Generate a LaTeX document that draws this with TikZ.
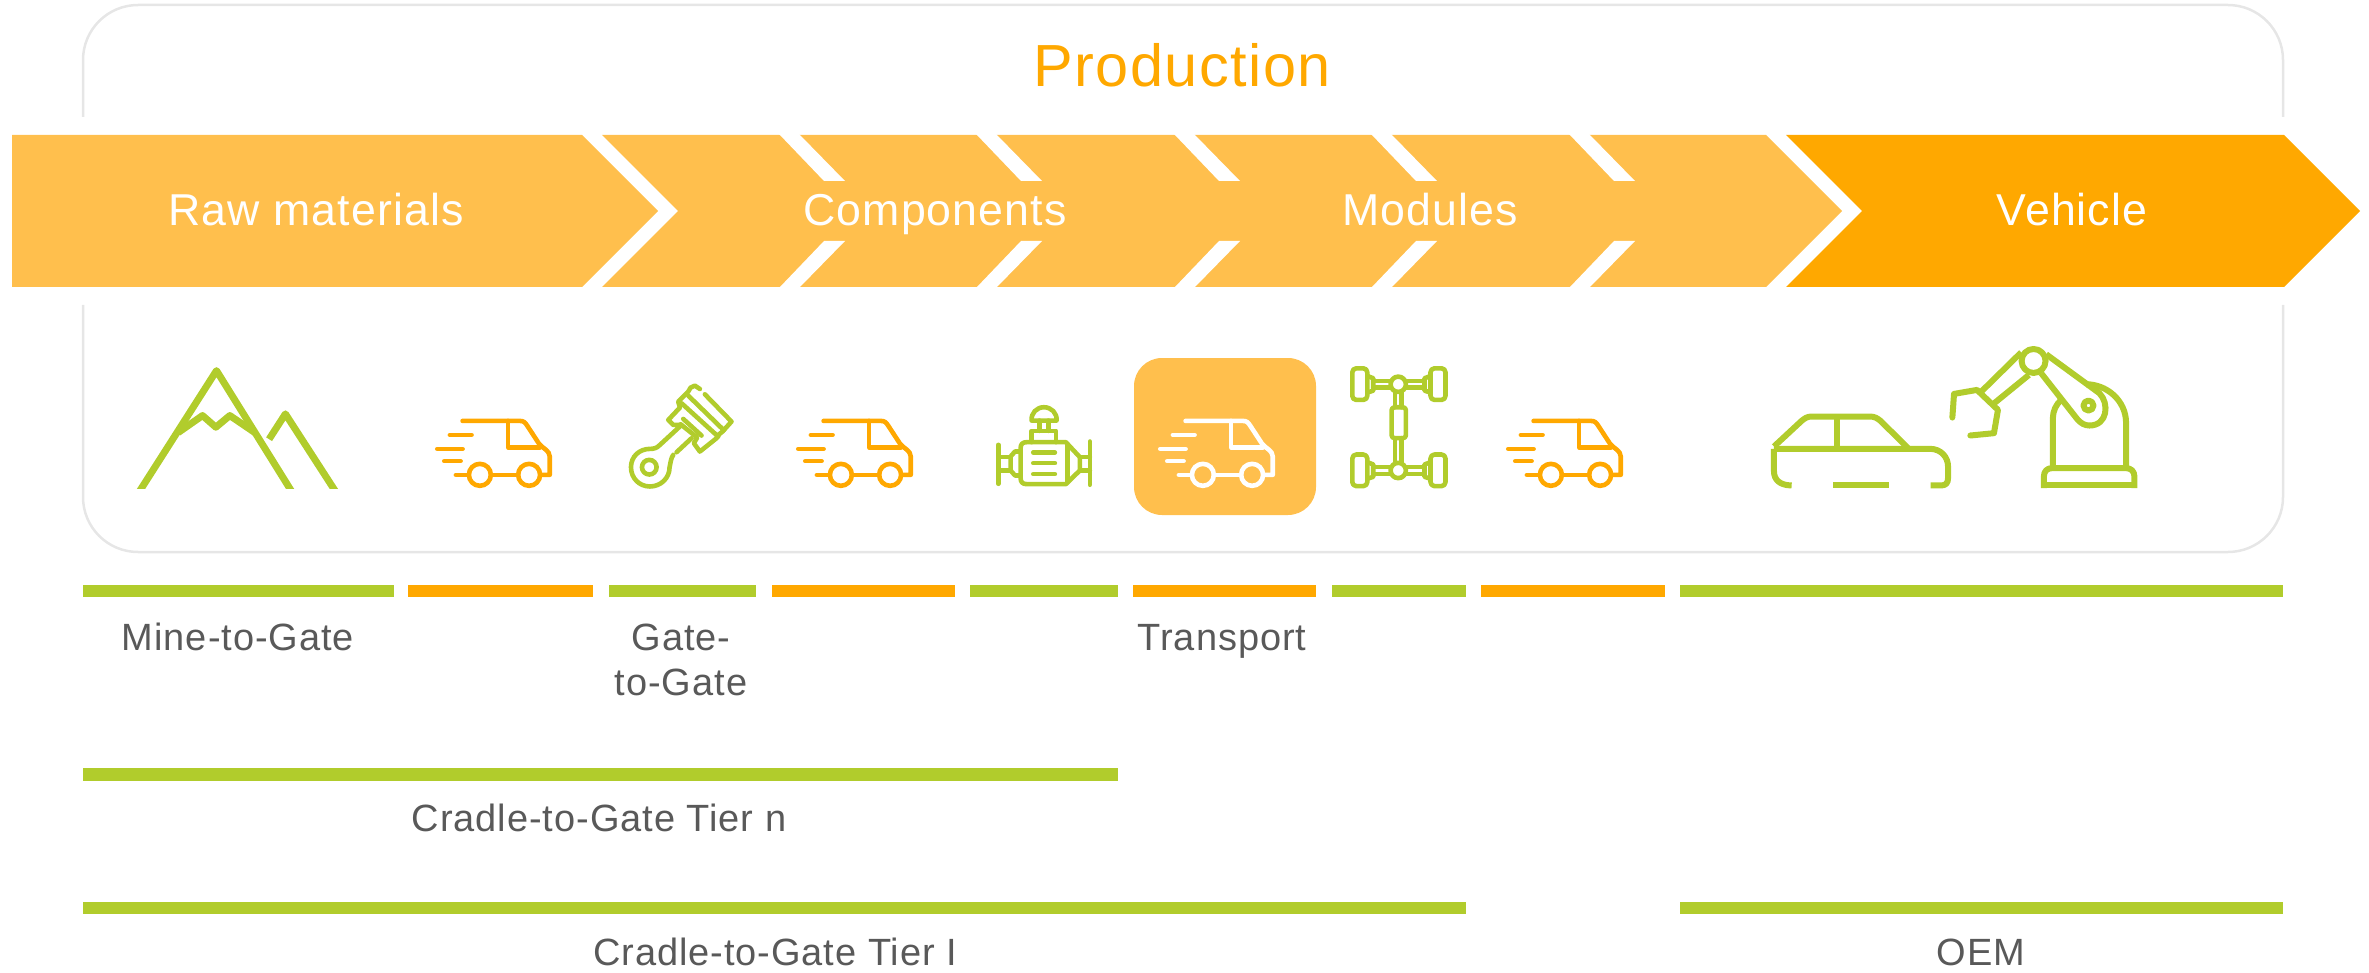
\documentclass[tikz,border=0pt]{standalone}
\usepackage{fontspec}
\setmainfont[LetterSpace=2.5]{Liberation Sans}
\usetikzlibrary{arrows}

\definecolor{lightorange}{HTML}{FFBF4D}
\definecolor{darkorange}{HTML}{FFA800}
\definecolor{leafgreen}{HTML}{B1CC2C}
\definecolor{labelgrey}{HTML}{595959}
\definecolor{panelgrey}{HTML}{E6E6E6}

\tikzset{
 iconline/.style={x=.003333cm,y=-.003333cm,line cap=round,line join=round},
 van/.pic={
 \draw[iconline] (188,183) -- (360,183) .. controls (372,183) and (376,188) .. (382,197) -- (418,252) .. controls (428,265) and (450,272) .. (450,290) -- (450,345) -- (425,345);
 \draw[iconline] (325,183) -- (325,263) -- (420,263);
 \draw[iconline] (240,345) circle [radius=33];
 \draw[iconline] (388,345) circle [radius=33];
 \draw[iconline] (273,345) -- (355,345);
 \draw[iconline] (168,345) -- (207,345);
 \draw[iconline] (150,225) -- (215,225);
 \draw[iconline] (112,267) -- (188,267);
 \draw[iconline] (133,304) -- (182,304);
 },
 piston/.pic={
 \draw[iconline] (160,240) .. controls (152,252) and (152,265) .. (149,277) .. controls (149,310) and (122,335) .. (90,335) .. controls (58,335) and (33,310) .. (33,277) .. controls (33,245) and (58,222) .. (90,222) .. controls (102,222) and (110,220) .. (120,210) -- (185,150) -- (160,150) -- (145,135) -- (180,98) -- (175,80) -- (205,50) -- (212,38) -- (225,32) -- (240,42);
 \draw[iconline] (88,277) circle [radius=22];
 \draw[iconline] (170,232) -- (215,190);
 \draw[iconline] (255,58) -- (335,140) -- (308,170) -- (298,178) -- (290,190) -- (240,230) -- (222,205) -- (232,188) -- (182,148);
 \draw[iconline] (205,62) -- (312,166);
 \draw[iconline] (185,85) -- (295,185);
 \draw[iconline] (190,132) -- (245,182);
 },
 motor/.pic={
 \draw[iconline] (140,277) -- (258,277) -- (300,322) -- (300,362) -- (258,403) -- (140,403) .. controls (128,403) and (122,397) .. (122,385) -- (122,295) .. controls (122,283) and (128,277) .. (140,277);
 \draw[iconline] (262,285) -- (262,395);
 \foreach \y in {308,340,373} \draw[iconline] (160,\y) -- (225,\y);
 \draw[iconline] (155,277) -- (155,243) -- (228,243) -- (228,277);
 \draw[iconline] (178,243) -- (178,212);
 \draw[iconline] (205,243) -- (205,212);
 \draw[iconline] (155,212) -- (230,212) .. controls (232,190) and (215,172) .. (192,172) .. controls (170,172) and (153,190) .. (155,212);
 \draw[iconline] (55,285) -- (55,402);
 \draw[iconline] (55,322) -- (92,322);
 \draw[iconline] (55,362) -- (92,362);
 \draw[iconline] (120,305) -- (105,305) -- (92,320) -- (92,362) -- (105,377) -- (120,377);
 \draw[iconline] (330,275) -- (330,405);
 \draw[iconline] (300,322) -- (330,322);
 \draw[iconline] (300,362) -- (330,362);
 },
 chassis/.pic={
 \foreach \y in {0,259} {
 \draw[iconline,rounded corners=.04cm] (37,{55+\y}) rectangle (82,{150+\y});
 \draw[iconline,rounded corners=.04cm] (272,{55+\y}) rectangle (317,{150+\y});
 \draw[iconline] (175,{103+\y}) circle [radius=23];
 \draw[iconline] (82,{78+\y}) -- (100,{85+\y}) -- (100,{122+\y}) -- (82,{128+\y});
 \draw[iconline] (272,{78+\y}) -- (254,{85+\y}) -- (254,{122+\y}) -- (272,{128+\y});
 \draw[iconline] (100,{93+\y}) -- (152,{93+\y});
 \draw[iconline] (100,{113+\y}) -- (152,{113+\y});
 \draw[iconline] (198,{93+\y}) -- (254,{93+\y});
 \draw[iconline] (198,{113+\y}) -- (254,{113+\y});
 }
 \draw[iconline,rounded corners=.03cm] (155,172) rectangle (198,265);
 \draw[iconline] (165,125) -- (165,172);
 \draw[iconline] (185,125) -- (185,172);
 \draw[iconline] (165,265) -- (165,340);
 \draw[iconline] (185,265) -- (185,340);
 },
}

\begin{document}
\begin{tikzpicture}[x=.01cm,y=-.01cm,semithick]
 \tikzstyle{headword}=[anchor=base,inner sep=0pt,text=white,font=\fontsize{12.7}{15}\selectfont]
 \tikzstyle{caption}=[anchor=base,inner sep=0pt,text=labelgrey,font=\fontsize{10.8}{12.8}\selectfont]
 \useasboundingbox (0,0) rectangle (2369,973);

 % frame behind the arrows
 \draw[panelgrey,line width=.025cm,rounded corners=.55cm] (83,117) -- (83,5) -- (2283,5) -- (2283,117);
 \draw[panelgrey,line width=.025cm,rounded corners=.55cm] (83,305) -- (83,552) -- (2283,552) -- (2283,305);
 \node[anchor=base,inner sep=0pt,text=darkorange,font=\fontsize{16.9}{20}\selectfont] (production) at (1182,87) {Production};

 % arrows
 \fill[lightorange] (12,135) -- (582,135) -- (658,211) -- (582,287) -- (12,287) -- cycle;
 \fill[lightorange] (602,135) -- (1766,135) -- (1842,211) -- (1766,287) -- (602,287) -- (678,211) -- cycle;
 \fill[darkorange] (1786,135) -- (2284,135) -- (2360,211) -- (2284,287) -- (1786,287) -- (1862,211) -- cycle;
 \foreach \x in {779,976,1174,1371,1569} {
 \fill[white] (\x,134) -- (\x+45,181) -- (\x+66,181) -- (\x+20,134) -- cycle;
 \fill[white] (\x,288) -- (\x+45,241) -- (\x+66,241) -- (\x+20,288) -- cycle;
 }
 \node[headword] (rawmat) at (316,226) {Raw materials};
 \node[headword] (comps) at (935,226) {Components};
 \node[headword] (modules) at (1430,226) {Modules};
 \node[headword] (vehicle) at (2072,226) {Vehicle};

 % icons
 \fill[lightorange,rounded corners=.28cm] (1134,358) rectangle (1316,515);
 \foreach \x in {0,361,1071}
 \pic[color=darkorange,line width=.046cm] at (400+\x,360) {van};
 \pic[color=white,line width=.046cm] at (1123,360) {van};
 \pic[color=leafgreen,line width=.046cm] at (620,375) {piston};
 \pic[color=leafgreen,line width=.046cm] at (980,350) {motor};
 \pic[color=leafgreen,line width=.046cm] at (1340,350) {chassis};

 % mountains
 \begin{scope}[shift={(120,350)},x=.003333cm,y=-.003333cm,line width=.07cm,color=leafgreen,line join=round]
 \clip (0,0) rectangle (700,416);
 \draw (52,435) -- (290,62) -- (522,435);
 \draw (175,248) -- (248,197) -- (288,232) -- (330,197) -- (405,248);
 \draw (448,268) -- (497,192) -- (654,435);
 \end{scope}

 % car and robot
 \begin{scope}[shift={(1760,335)},x=.003333cm,y=-.003333cm,line width=.06cm,color=leafgreen,line join=round]
 \draw (42,342) -- (510,342) .. controls (545,342) and (565,368) .. (565,395) -- (565,430) .. controls (565,445) and (558,452) .. (545,452) -- (513,452);
 \draw (42,342) -- (42,410) .. controls (42,435) and (60,452) .. (95,452);
 \draw (220,452) -- (387,452);
 \draw (42,335) -- (125,258) .. controls (135,250) and (142,245) .. (155,245) -- (330,245) .. controls (345,245) and (352,250) .. (362,258) -- (445,340);
 \draw (230,245) -- (230,342);
 \draw (853,460) -- (853,425) .. controls (853,410) and (862,400) .. (878,400) -- (1100,400) .. controls (1115,400) and (1125,410) .. (1125,425) -- (1125,460);
 \draw (853,452) -- (1125,452);
 \draw (880,400) -- (880,250) .. controls (880,228) and (890,208) .. (905,195);
 \draw (1100,400) -- (1100,265) .. controls (1100,195) and (1040,148) .. (980,148);
 \draw (822,78) circle [radius=36];
 \draw (860,58) -- (1020,175) .. controls (1050,205) and (1045,272) .. (990,272) .. controls (975,272) and (965,265) .. (955,255) -- (845,115);
 \draw (987,212) circle [radius=15];
 \draw (785,52) -- (665,170);
 \draw (808,120) -- (700,208);
 \draw[line cap=round] (578,248) -- (583,177) -- (652,165) -- (715,225) -- (703,295) -- (632,302);
 \end{scope}

 % bars
 \foreach \xa/\xb/\barcol in {83/394/leafgreen,408/593/darkorange,609/756/leafgreen,772/955/darkorange,970/1118/leafgreen,1133/1316/darkorange,1332/1466/leafgreen,1481/1665/darkorange,1680/2283/leafgreen}
 \fill[\barcol] (\xa,585) rectangle (\xb,597);
 \fill[leafgreen] (83,768) rectangle (1118,781);
 \fill[leafgreen] (83,902) rectangle (1466,914);
 \fill[leafgreen] (1680,902) rectangle (2283,914);

 % labels
 \node[caption] (minegate) at (238,650) {Mine-to-Gate};
 \node[caption] (gategate) at (681,650) {Gate-};
 \node[caption] (gategatb) at (681,695) {to-Gate};
 \node[caption] (transport) at (1222,650) {Transport};
 \node[caption] (tiern) at (599,831) {Cradle-to-Gate Tier n};
 \node[caption] (tierone) at (775,965) {Cradle-to-Gate Tier I};
 \node[caption] (oem) at (1981,965) {OEM};
\end{tikzpicture}
\end{document}
